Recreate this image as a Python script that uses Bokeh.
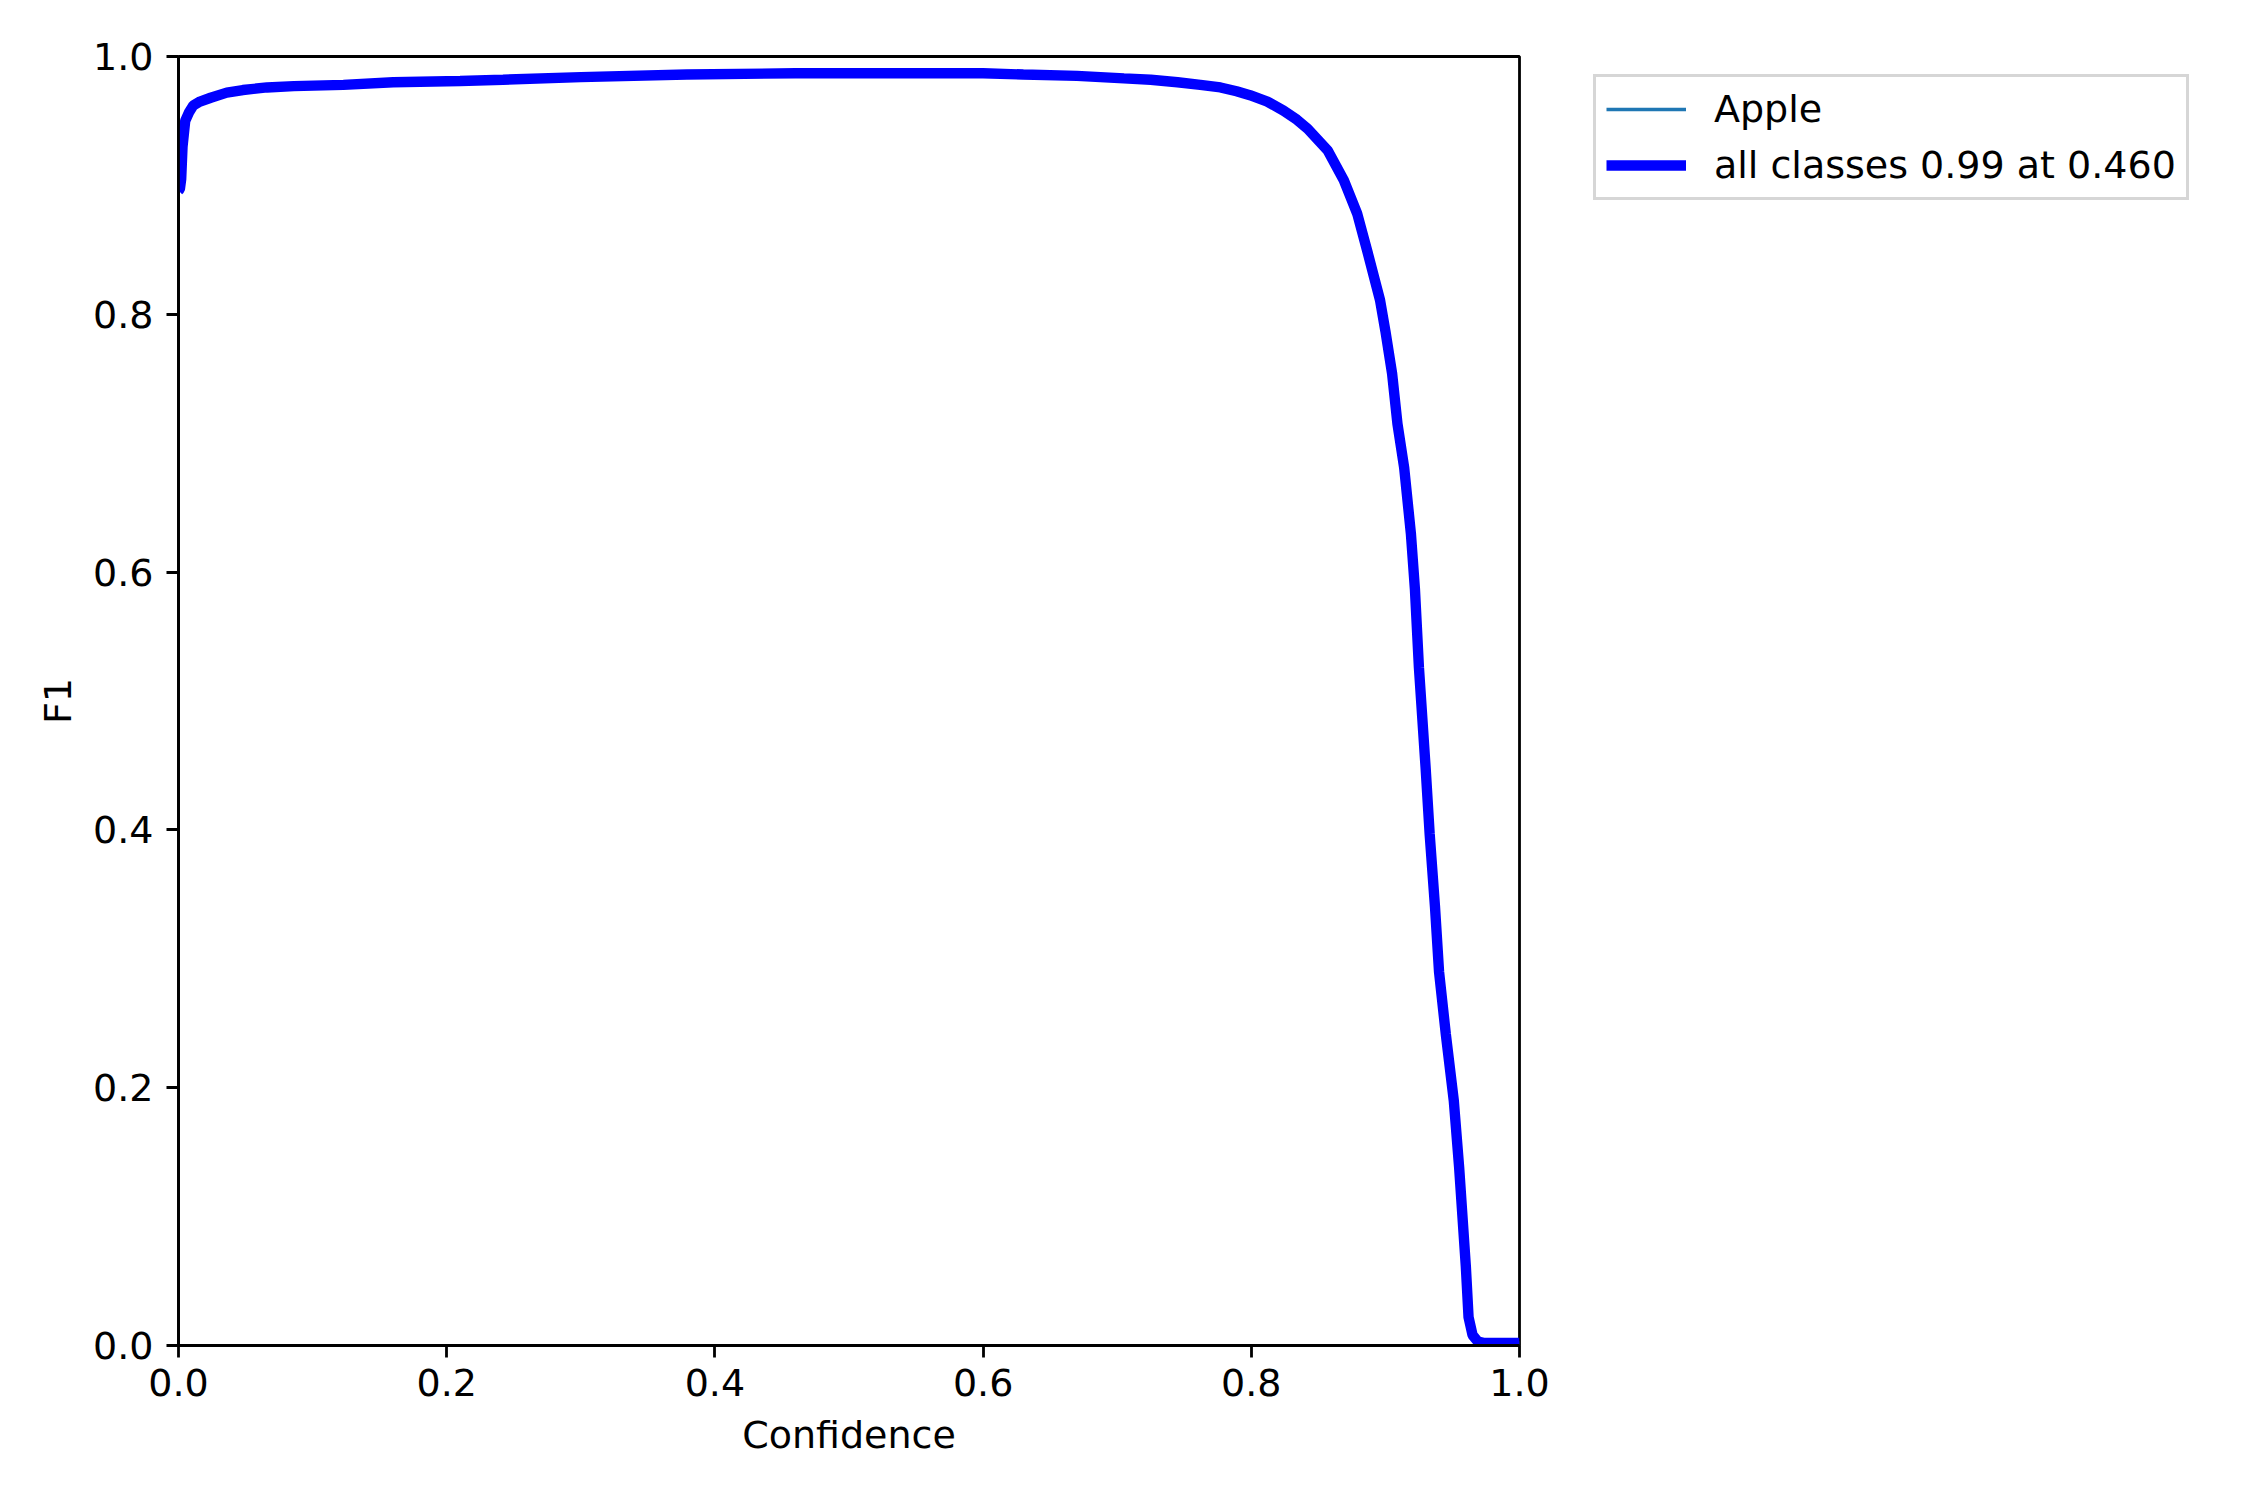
from bokeh.plotting import figure
from bokeh.models import Legend, LegendItem, Range1d, FixedTicker, PrintfTickFormatter, ColumnDataSource
from bokeh.embed import file_html
from bokeh.resources import INLINE

# ---- data ----
confidence = [0.0, 0.001, 0.002, 0.003, 0.005, 0.008, 0.011, 0.016, 0.024, 0.036, 0.048,
              0.066, 0.086, 0.123, 0.16, 0.21, 0.242, 0.30, 0.379, 0.46, 0.531, 0.60,
              0.63, 0.67, 0.705, 0.725, 0.745, 0.762, 0.777, 0.789, 0.799, 0.812, 0.824, 0.834, 0.842,
              0.857, 0.869, 0.879, 0.887, 0.896, 0.900, 0.905, 0.909, 0.914, 0.919,
              0.922, 0.925, 0.930, 0.933, 0.937, 0.940, 0.945, 0.951, 0.955, 0.960,
              0.962, 0.965, 0.969, 0.973, 1.0]
f1_apple = [0.896, 0.897, 0.905, 0.930, 0.950, 0.957, 0.962, 0.965, 0.968, 0.972, 0.974,
            0.976, 0.977, 0.978, 0.980, 0.981, 0.982, 0.984, 0.986, 0.987, 0.987, 0.987,
            0.986, 0.985, 0.983, 0.982, 0.980, 0.978, 0.976, 0.973, 0.970, 0.965, 0.958, 0.951, 0.944,
            0.927, 0.904, 0.878, 0.847, 0.811, 0.787, 0.754, 0.715, 0.681, 0.630,
            0.587, 0.526, 0.448, 0.397, 0.340, 0.290, 0.242, 0.190, 0.138, 0.061,
            0.022, 0.008, 0.003, 0.002, 0.002]
f1_all = list(f1_apple)  # single class: mean over classes equals the class curve

x_ticks = [0.0, 0.2, 0.4, 0.6, 0.8, 1.0]
y_ticks = [0.0, 0.2, 0.4, 0.6, 0.8, 1.0]
labels = ["Apple", "all classes 0.99 at 0.460"]
colors = ["#1f77b4", "#0000ff"]

FONT = "DejaVu Sans"
FS = "38px"

p = figure(frame_width=1341, frame_height=1289,
           min_border_left=178, min_border_right=715, min_border_top=56, min_border_bottom=139,
           x_range=Range1d(0, 1), y_range=Range1d(0, 1),
           output_backend="svg", toolbar_location=None)

src = ColumnDataSource(dict(x=confidence, y1=f1_apple, y2=f1_all))
r1 = p.line("x", "y1", source=src, line_color=colors[0], line_width=3.5)
r2 = p.line("x", "y2", source=src, line_color=colors[1], line_width=10.4)

p.grid.visible = False
p.outline_line_color = "black"
p.outline_line_width = 2.8

for ax, ticks in ((p.xaxis, x_ticks), (p.yaxis, y_ticks)):
    ax.ticker = FixedTicker(ticks=ticks)
    ax.formatter = PrintfTickFormatter(format="%.1f")
    ax.axis_line_width = 2.8
    ax.major_tick_line_width = 2.8
    ax.major_tick_out = 12
    ax.major_tick_in = 0
    ax.minor_tick_line_color = None
    ax.major_label_text_font = FONT
    ax.major_label_text_font_size = FS
    ax.major_label_text_color = "black"
    ax.axis_label_text_font = FONT
    ax.axis_label_text_font_size = FS
    ax.axis_label_text_font_style = "normal"
    ax.axis_label_text_color = "black"

p.xaxis.axis_label = "Confidence"
p.yaxis.axis_label = "F1"
p.xaxis.major_label_standoff = 11
p.yaxis.major_label_standoff = 13
p.xaxis.axis_label_standoff = 14
p.yaxis.axis_label_standoff = 10

legend = Legend(items=[LegendItem(label=labels[0], renderers=[r1]),
                       LegendItem(label=labels[1], renderers=[r2])],
                location=(74, 1145))
legend.label_text_font = FONT
legend.label_text_font_size = FS
legend.label_text_color = "black"
legend.label_standoff = 28
legend.glyph_width = 80
legend.glyph_height = 38
legend.label_height = 38
legend.spacing = 12
legend.padding = 10
legend.margin = 0
legend.border_line_color = "#cccccc"
legend.border_line_alpha = 0.8
legend.border_line_width = 3.5
legend.background_fill_alpha = 0.8
p.add_layout(legend, "right")

open("out.html", "w").write(file_html(p, INLINE))
